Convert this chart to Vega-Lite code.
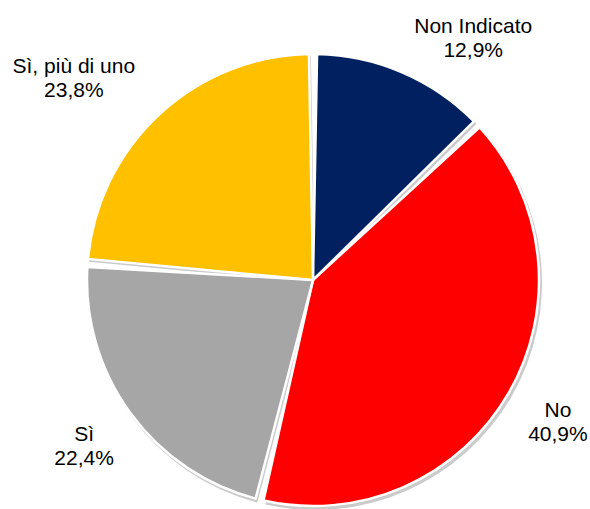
{
  "$schema": "https://vega.github.io/schema/vega-lite/v6.json",
  "width": 554,
  "height": 458,
  "autosize": {"type": "none"},
  "padding": {"left": 36, "top": 51, "right": 0, "bottom": 0},
  "background": "white",
  "config": {"view": {"stroke": null}},
  "data": {
    "values": [
      {"idx": 1, "cat": "Non Indicato", "value": 12.9, "label": "Non Indicato\n12,9%"},
      {"idx": 2, "cat": "No", "value": 40.9, "label": "No\n40,9%"},
      {"idx": 3, "cat": "Sì", "value": 22.4, "label": "Sì\n22,4%"},
      {"idx": 4, "cat": "Sì, più di uno", "value": 23.8, "label": "Sì, più di uno\n23,8%"}
    ]
  },
  "encoding": {
    "theta": {"field": "value", "type": "quantitative", "stack": true},
    "order": {"field": "idx", "type": "quantitative"}
  },
  "layer": [
    {
      "mark": {"type": "arc", "outerRadius": 227, "padAngle": 0.036, "fill": "#8c8c8c", "opacity": 0.45, "xOffset": 2, "yOffset": 3}
    },
    {
      "mark": {"type": "arc", "outerRadius": 226, "padAngle": 0.036, "stroke": "white", "strokeWidth": 2.5},
      "encoding": {
        "color": {
          "field": "cat",
          "type": "nominal",
          "scale": {
            "domain": ["Non Indicato", "No", "Sì", "Sì, più di uno"],
            "range": ["#002060", "#FF0000", "#A6A6A6", "#FFC000"]
          },
          "legend": null
        }
      }
    },
    {
      "mark": {"type": "text", "radius": 283, "dy": -11, "font": "Liberation Sans", "fontSize": 21, "lineBreak": "\n", "lineHeight": 24, "align": "center", "baseline": "middle", "color": "black"},
      "encoding": {
        "text": {"field": "label", "type": "nominal"},
        "opacity": {"condition": {"test": "datum.idx == 2 || datum.idx == 3", "value": 1}, "value": 0}
      }
    },
    {
      "mark": {"type": "text", "radius": 290, "dy": -11, "thetaOffset": 0.18, "font": "Liberation Sans", "fontSize": 21, "lineBreak": "\n", "lineHeight": 24, "align": "center", "baseline": "middle", "color": "black"},
      "encoding": {
        "text": {"field": "label", "type": "nominal"},
        "opacity": {"condition": {"test": "datum.idx == 1", "value": 1}, "value": 0}
      }
    },
    {
      "mark": {"type": "text", "radius": 313, "dy": -11, "thetaOffset": -0.122, "font": "Liberation Sans", "fontSize": 21, "lineBreak": "\n", "lineHeight": 24, "align": "center", "baseline": "middle", "color": "black"},
      "encoding": {
        "text": {"field": "label", "type": "nominal"},
        "opacity": {"condition": {"test": "datum.idx == 4", "value": 1}, "value": 0}
      }
    }
  ]
}
